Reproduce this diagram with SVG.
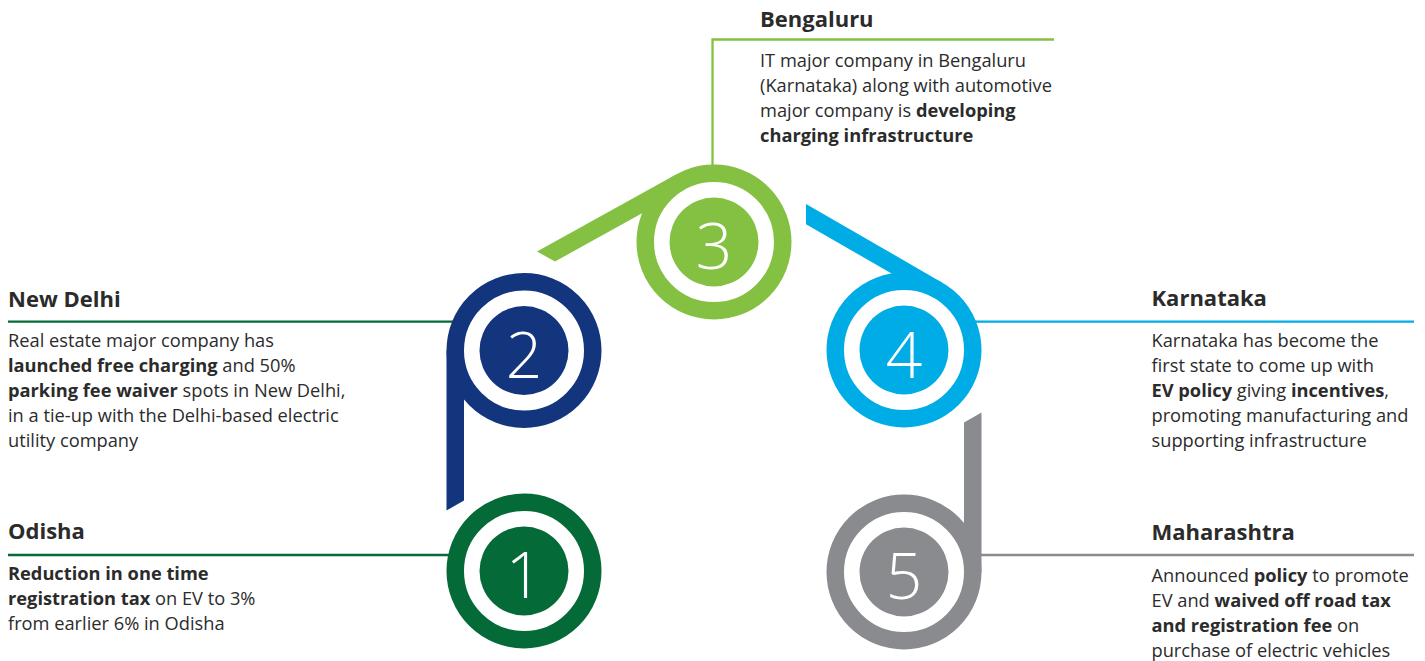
<svg xmlns="http://www.w3.org/2000/svg" width="1425" height="661" viewBox="0 0 1425 661">
<style>
.t{font-family:"Open Sans","Liberation Sans",sans-serif;fill:#2b2b2b}
.h{font-size:22px;font-weight:700}
.b{font-size:18.25px}
.bd{font-weight:700}
.ring{fill:none;stroke-width:17.5}
.num{font-family:"Open Sans","Liberation Sans",sans-serif;font-size:64px;font-weight:300;fill:#fff;text-anchor:middle}
.ln{fill:none;stroke-width:2.3}
</style>
<rect width="1425" height="661" fill="#fff"/>
<g id="connectors">
<line class="ln" x1="8" y1="321.7" x2="458" y2="321.7" stroke="#046a38"/>
<line class="ln" x1="8" y1="555" x2="454" y2="555" stroke="#046a38"/>
<line class="ln" x1="970" y1="321.7" x2="1414" y2="321.7" stroke="#00ace6"/>
<line class="ln" x1="972" y1="555" x2="1414" y2="555" stroke="#898b8e"/>
<polyline class="ln" points="712.5,170 712.5,39.5 1054,39.5" stroke="#84c142"/>
</g>
<g id="node1">
<circle class="ring" cx="524" cy="571" r="68.75" stroke="#046a38"/>
<circle cx="524" cy="571" r="44.5" fill="#046a38"/>
<text class="num" x="524" y="598">1</text>
<text class="t h" x="8" y="539.3">Odisha</text>
<text class="t b" x="8" y="580"><tspan class="bd">Reduction in one time</tspan><tspan x="8" dy="25"><tspan class="bd">registration tax</tspan> on EV to 3%</tspan><tspan x="8" dy="25">from earlier 6% in Odisha</tspan></text>
</g>
<g id="node2">
<path d="M446.5,350.5 L446.5,510.5 L464,500.4 L464,350.5 Z" fill="#13357e"/>
<circle class="ring" cx="524" cy="350.5" r="68.75" stroke="#13357e"/>
<circle cx="524" cy="350.5" r="44.5" fill="#13357e"/>
<text class="num" x="524" y="378">2</text>
<text class="t h" x="8" y="306.7">New Delhi</text>
<text class="t b" x="8" y="346.7">Real estate major company has<tspan x="8" dy="25"><tspan class="bd">launched free charging</tspan> and 50%</tspan><tspan x="8" dy="25"><tspan class="bd">parking fee waiver</tspan> spots in New Delhi,</tspan><tspan x="8" dy="25">in a tie-up with the Delhi-based electric</tspan><tspan x="8" dy="25">utility company</tspan></text>
</g>
<g id="node3">
<path d="M676.43,174.22 L537,251.5 L555,261.5 L684.91,189.52 Z" fill="#84c142"/>
<circle class="ring" cx="714" cy="242" r="68.75" stroke="#84c142"/>
<circle cx="714" cy="242" r="44.5" fill="#84c142"/>
<text class="num" x="714" y="268.5">3</text>
<text class="t h" x="760" y="26.7">Bengaluru</text>
<text class="t b" x="760" y="66.7">IT major company in Bengaluru<tspan x="760" dy="25">(Karnataka) along with automotive</tspan><tspan x="760" dy="25">major company is <tspan class="bd">developing</tspan></tspan><tspan x="760" dy="25" class="bd">charging infrastructure</tspan></text>
</g>
<g id="node4">
<path d="M942.75,282.88 L806,203.9 L806,224.14 L934,298.04 Z" fill="#00ace6"/>
<circle class="ring" cx="904" cy="350" r="68.75" stroke="#00ace6"/>
<circle cx="904" cy="350" r="44.5" fill="#00ace6"/>
<text class="num" x="904" y="377.5">4</text>
<text class="t h" x="1151.5" y="306">Karnataka</text>
<text class="t b" x="1151.5" y="346.7">Karnataka has become the<tspan x="1151.5" dy="25">first state to come up with</tspan><tspan x="1151.5" dy="25"><tspan class="bd">EV policy</tspan> giving <tspan class="bd">incentives</tspan>,</tspan><tspan x="1151.5" dy="25">promoting manufacturing and</tspan><tspan x="1151.5" dy="25">supporting infrastructure</tspan></text>
</g>
<g id="node5">
<path d="M964,572 L964,422.5 L981.5,412.4 L981.5,572 Z" fill="#898b8e"/>
<circle class="ring" cx="904" cy="572" r="68.75" stroke="#898b8e"/>
<circle cx="904" cy="572" r="44.5" fill="#898b8e"/>
<text class="num" x="904" y="599">5</text>
<text class="t h" x="1151.5" y="540">Maharashtra</text>
<text class="t b" x="1151.5" y="581.5">Announced <tspan class="bd">policy</tspan> to promote<tspan x="1151.5" dy="25">EV and <tspan class="bd">waived off road tax</tspan></tspan><tspan x="1151.5" dy="25"><tspan class="bd">and registration fee</tspan> on</tspan><tspan x="1151.5" dy="25">purchase of electric vehicles</tspan></text>
</g>
</svg>
